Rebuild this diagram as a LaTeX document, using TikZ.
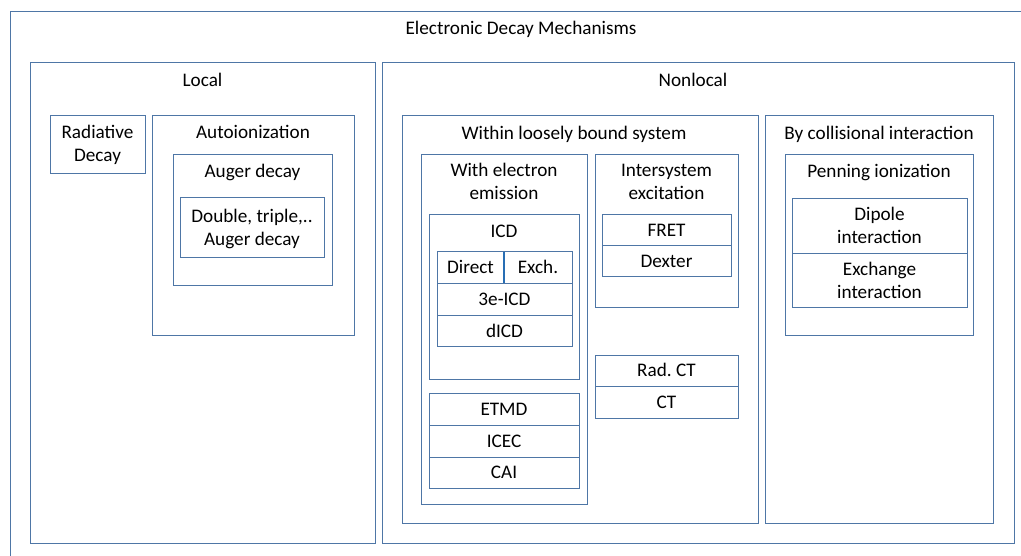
\documentclass[tikz,border=0pt]{standalone}
\usepackage{fontspec}
\setmainfont{Carlito}
\usetikzlibrary{positioning}

\definecolor{boxblue}{RGB}{78,118,166}
\definecolor{splitblue}{RGB}{40,110,180}

\tikzset{
    box/.style={draw=boxblue, line width=1pt, anchor=north west, inner sep=0pt, outer sep=0pt},
    cell/.style={box, text height=12pt, text depth=0pt},
    title/.style={anchor=base, align=center, inner sep=0pt, yshift=-1pt}}

\begin{document}
\begin{tikzpicture}[x=1pt, y=-1pt, every node/.append style={font=\fontsize{19.2}{23}\selectfont}]

            \useasboundingbox (0,0) rectangle (1021,556);
            \clip (0,0) rectangle (1021,556);

            % outer frame
            \node[box, minimum width=1040pt, minimum height=580pt] (all) at (10,12) {};
            \node[title] (allT) at (521,34) {Electronic Decay Mechanisms};

            % local side (two-line titles sit on their last baseline)
            \node[box, minimum width=345pt, minimum height=480pt] (local) at (30,63) {};
            \node[title] (localT) at (202.5,86) {Local};
            \node[box, minimum width=95pt, minimum height=58pt] (rad) at (50,116) {};
            \node[title] (radT) at (97.5,161) {Radiative\\Decay};
            \node[box, minimum width=202pt, minimum height=220pt] (auto) at (152,116) {};
            \node[title] (autoT) at (253,138) {Autoionization};
            \node[box, minimum width=159pt, minimum height=131pt] (auger) at (173,155) {};
            \node[title] (augerT) at (252.5,177) {Auger decay};
            \node[box, minimum width=144pt, minimum height=60pt] (multi) at (180,198) {};
            \node[title] (multiT) at (252,245) {Double, triple,..\\Auger decay};

            % nonlocal side
            \node[box, minimum width=632pt, minimum height=480pt] (nonlocal) at (382,63) {};
            \node[title] (nonlocalT) at (693,86) {Nonlocal};
            \node[box, minimum width=356pt, minimum height=407pt] (loose) at (402,116) {};
            \node[title] (looseT) at (574,139) {Within loosely bound system};

            \node[box, minimum width=166pt, minimum height=349pt] (emit) at (421,155) {};
            \node[title] (emitT) at (504,199) {With electron\\emission};
            \node[box, minimum width=150pt, minimum height=164pt] (icd) at (429,215) {};
            \node[title] (icdT) at (504,237) {ICD};
            \node[cell, minimum width=67pt, minimum height=32pt] (direct) at (437,252) {Direct};
            \node[cell, minimum width=68pt, minimum height=32pt, right=0pt of direct.north east, anchor=north west] (exch) {Exch.};
            \draw[splitblue, line width=1.6pt] (direct.north east) -- (direct.south east);
            \node[cell, minimum width=135pt, minimum height=32pt, below=0pt of direct.south west, anchor=north west] (threeicd) {3e-ICD};
            \node[cell, minimum width=135pt, minimum height=31pt, below=0pt of threeicd] (dicd) {dICD};

            \node[cell, minimum width=150pt, minimum height=32pt] (etmd) at (429,393) {ETMD};
            \node[cell, minimum width=150pt, minimum height=32pt, below=0pt of etmd] (icec) {ICEC};
            \node[cell, minimum width=150pt, minimum height=31pt, below=0pt of icec] (cai) {CAI};

            \node[box, minimum width=143pt, minimum height=153pt] (inter) at (595,155) {};
            \node[title] (interT) at (666.5,199) {Intersystem\\excitation};
            \node[cell, minimum width=129pt, minimum height=31pt] (fret) at (602,215) {FRET};
            \node[cell, minimum width=129pt, minimum height=31pt, below=0pt of fret] (dexter) {Dexter};

            \node[cell, minimum width=143pt, minimum height=31pt] (radct) at (595,355) {Rad.\ CT};
            \node[cell, minimum width=143pt, minimum height=32pt, below=0pt of radct] (ct) {CT};

            \node[box, minimum width=228pt, minimum height=407pt] (coll) at (765,116) {};
            \node[title] (collT) at (879,139) {By collisional interaction};
            \node[box, minimum width=188pt, minimum height=181pt] (penning) at (785,155) {};
            \node[title] (penningT) at (879,177) {Penning ionization};
            \node[box, minimum width=175pt, minimum height=55pt] (dipole) at (792,199) {};
            \node[title] (dipoleT) at (879.5,243) {Dipole\\interaction};
            \node[box, minimum width=175pt, minimum height=54pt, below=0pt of dipole] (exchange) {};
            \node[title] (exchangeT) at (879.5,298) {Exchange\\interaction};

        \end{tikzpicture}
\end{document}
